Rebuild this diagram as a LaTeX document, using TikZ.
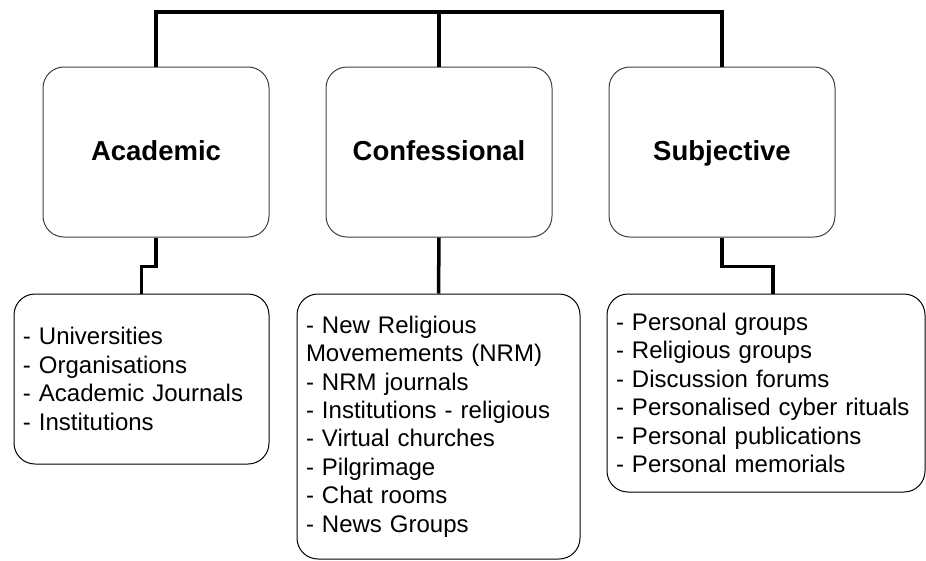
\documentclass[tikz,border=0pt]{standalone}
\usepackage{fontspec}
\setmainfont{Liberation Sans}
\begin{document}
\begin{tikzpicture}[x=1pt,y=-1pt,
  headbox/.style={draw=black!75, line width=1pt, rounded corners=21pt,
    minimum width=226pt, minimum height=170pt, inner sep=0pt,
    font=\fontsize{27.5}{33}\selectfont\bfseries,
    text height=20pt, text depth=2.6pt},
  listbox/.style={draw=black, line width=1pt, rounded corners=21pt,
    inner xsep=9pt, inner ysep=0pt, align=left,
    font=\fontsize{24}{28.4}\selectfont},
  conn/.style={line width=3.5pt, line join=miter}]
\useasboundingbox (0,0) rectangle (926,560);

% category boxes
\node[headbox] (acad) at (156,152) {Academic};
\node[headbox] (conf) at (439,152) {Confessional};
\node[headbox] (subj) at (722,152) {Subjective};

% lists of examples
\node[listbox, minimum width=255pt, minimum height=170pt, text width=237pt]
  (acadL) at (141.5,379) {- Universities\\- Organisations\\- Academic Journals\\- Institutions};
\node[listbox, minimum width=283pt, minimum height=265pt, text width=265pt]
  (confL) at (438.5,426.5) {- New Religious\\Movemements (NRM)\\- NRM journals\\- Institutions - religious\\- Virtual churches\\- Pilgrimage\\- Chat rooms\\- News Groups};
\node[listbox, minimum width=318pt, minimum height=198pt, text width=300pt]
  (subjL) at (766,393) {- Personal groups\\- Religious groups\\- Discussion forums\\- Personalised cyber rituals\\- Personal publications\\- Personal memorials};

% top bracket joining the three categories
\coordinate (bar) at (439,12);
\draw[conn] (acad.north) |- (bar) -| (subj.north);
\draw[conn] (bar) -- (conf.north);

% category to list connectors
\draw[conn] (acad.south) -- ++(0,29) -| (acadL.north);
\draw[conn] (conf.south) -- (confL.north);
\draw[conn] (subj.south) -- ++(0,29) -| ([xshift=7pt]subjL.north);
\end{tikzpicture}
\end{document}
